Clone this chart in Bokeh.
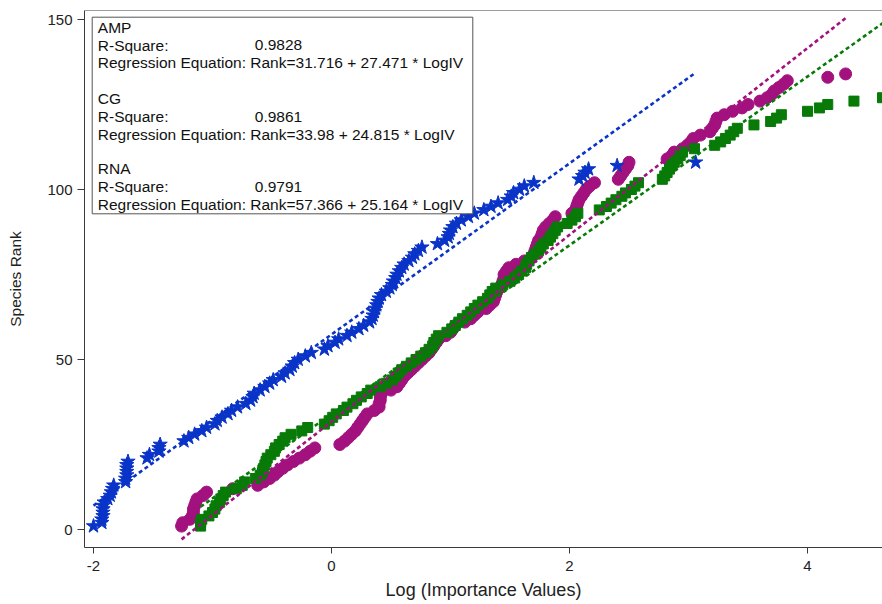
from bokeh.plotting import figure
from bokeh.models import Range1d, FixedTicker, Label, BoxAnnotation, Span
from bokeh.embed import file_html
from bokeh.resources import INLINE

# ---------------- data ----------------
species_rank = [
    1, 2, 3, 4, 5, 6, 7, 8, 9, 10, 11, 12, 13, 14, 15, 16, 17, 18, 19, 20,
    21, 22, 23, 24, 25, 26, 27, 28, 29, 30, 31, 32, 33, 34, 35, 36, 37, 38, 39, 40,
    41, 42, 43, 44, 45, 46, 47, 48, 49, 50, 51, 52, 53, 54, 55, 56, 57, 58, 59, 60,
    61, 62, 63, 64, 65, 66, 67, 68, 69, 70, 71, 72, 73, 74, 75, 76, 77, 78, 79, 80,
    81, 82, 83, 84, 85, 86, 87, 88, 89, 90, 91, 92, 93, 94, 95, 96, 97, 98, 99, 100,
    101, 102, 103, 104, 105, 106, 107, 108, 109, 110, 111, 112, 113, 114, 115, 116, 117, 118, 119, 120,
    121, 122, 123, 124, 125, 126, 127, 128, 129, 130, 131, 132, 133, 134,
]

rna_logiv = [
    -2.00, -1.93, -1.93, -1.92, -1.92, -1.92, -1.92, -1.91, -1.88, -1.86,
    -1.85, -1.84, -1.83, -1.73, -1.73, -1.72, -1.72, -1.72, -1.72, -1.71,
    -1.55, -1.53, -1.45, -1.45, -1.44, -1.24, -1.20, -1.15, -1.09, -1.05,
    -0.98, -0.96, -0.92, -0.87, -0.84, -0.79, -0.72, -0.68, -0.66, -0.65,
    -0.60, -0.56, -0.52, -0.49, -0.42, -0.39, -0.35, -0.33, -0.31, -0.28,
    -0.22, -0.17, -0.06, -0.03, 0.03, 0.06, 0.13, 0.17, 0.23, 0.27,
    0.32, 0.34, 0.35, 0.36, 0.37, 0.38, 0.39, 0.40, 0.42, 0.46,
    0.49, 0.51, 0.52, 0.54, 0.55, 0.57, 0.59, 0.61, 0.65, 0.68,
    0.70, 0.73, 0.76, 0.89, 0.95, 0.98, 0.99, 1.00, 1.02, 1.05,
    1.09, 1.15, 1.20, 1.28, 1.34, 1.40, 1.48, 1.51, 1.53, 1.58,
    1.62, 1.70, 2.08, 2.11, 2.13, 2.16, 2.40, 3.06,
]

amp_logiv = [
    -1.26, -1.25, -1.19, -1.17, -1.16, -1.16, -1.15, -1.14, -1.13, -1.08,
    -1.05, -0.83, -0.62, -0.57, -0.52, -0.48, -0.45, -0.41, -0.37, -0.32,
    -0.27, -0.22, -0.18, -0.14, 0.07, 0.11, 0.14, 0.17, 0.20, 0.22,
    0.24, 0.26, 0.28, 0.30, 0.36, 0.40, 0.40, 0.41, 0.41, 0.42,
    0.50, 0.55, 0.57, 0.59, 0.61, 0.64, 0.67, 0.70, 0.73, 0.76,
    0.79, 0.82, 0.84, 0.86, 0.88, 0.90, 0.96, 1.00, 1.02, 1.04,
    1.12, 1.17, 1.20, 1.23, 1.30, 1.33, 1.36, 1.37, 1.38, 1.39,
    1.41, 1.43, 1.44, 1.45, 1.45, 1.47, 1.49, 1.55, 1.62, 1.68,
    1.70, 1.71, 1.72, 1.73, 1.74, 1.76, 1.77, 1.78, 1.80, 1.83,
    1.86, 1.88, 2.02, 2.05, 2.06, 2.07, 2.08, 2.10, 2.12, 2.14,
    2.17, 2.21, 2.41, 2.43, 2.45, 2.47, 2.49, 2.50, 2.82, 2.86,
    2.88, 2.95, 2.99, 3.02, 3.04, 3.10, 3.18, 3.20, 3.22, 3.23,
    3.24, 3.30, 3.37, 3.45, 3.50, 3.60, 3.66, 3.70, 3.72, 3.76,
    3.80, 3.83, 4.17, 4.32,
]

cg_logiv = [
    -1.10, -1.10, -1.09, -1.03, -1.00, -0.98, -0.97, -0.94, -0.93, -0.91,
    -0.89, -0.80, -0.75, -0.73, -0.64, -0.60, -0.58, -0.57, -0.56, -0.55,
    -0.54, -0.51, -0.48, -0.47, -0.44, -0.41, -0.39, -0.34, -0.25, -0.20,
    -0.06, -0.02, 0.01, 0.04, 0.10, 0.13, 0.18, 0.21, 0.25, 0.30,
    0.33, 0.41, 0.46, 0.51, 0.54, 0.56, 0.59, 0.63, 0.67, 0.71,
    0.75, 0.79, 0.82, 0.85, 0.86, 0.88, 0.90, 0.97, 1.01, 1.04,
    1.07, 1.10, 1.14, 1.17, 1.20, 1.23, 1.27, 1.31, 1.33, 1.35,
    1.38, 1.44, 1.50, 1.54, 1.57, 1.60, 1.63, 1.64, 1.66, 1.68,
    1.71, 1.74, 1.76, 1.78, 1.82, 1.84, 1.86, 1.88, 1.90, 1.98,
    2.02, 2.05, 2.07, 2.25, 2.31, 2.35, 2.39, 2.44, 2.47, 2.52,
    2.55, 2.58, 2.78, 2.80, 2.82, 2.84, 2.86, 2.88, 2.91, 2.93,
    2.95, 3.05, 3.22, 3.27, 3.31, 3.35, 3.38, 3.41, 3.55, 3.69,
    3.74, 3.78, 4.00, 4.10, 4.17, 4.39, 4.63, 4.80,
]

group_names = ["AMP", "CG", "RNA"]
r_square = [0.9828, 0.9861, 0.9791]
intercepts = [31.716, 33.98, 57.366]
slopes = [27.471, 24.815, 25.164]

x_ticks = [-2, 0, 2, 4]
y_ticks = [0, 50, 100, 150]
x_title = "Log (Importance Values)"
y_title = "Species Rank"

# ---------------- styling ----------------
FONT = "Liberation Sans"
BLUE = "#0a34c8"
MAGENTA = "#a3117f"
GREEN = "#087a08"
AXIS = "#3a3a3a"

X0, X1 = -2.0756, 4.630
Y0, Y1 = -5.29, 152.65

p = figure(width=882, height=604, output_backend="svg", toolbar_location=None,
           x_range=Range1d(X0, X1), y_range=Range1d(Y0, Y1),
           min_border_left=84, min_border_right=0, min_border_top=10,
           min_border_bottom=57)
p.outline_line_color = None
p.xgrid.visible = False
p.ygrid.visible = False
p.background_fill_color = "white"
p.border_fill_color = "white"

for ax, ticks in ((p.xaxis[0], x_ticks), (p.yaxis[0], y_ticks)):
    ax.ticker = FixedTicker(ticks=ticks)
    ax.major_label_overrides = {t: str(t) for t in ticks}
    ax.minor_tick_line_color = None
    ax.major_tick_in = 0
    ax.axis_line_color = AXIS
    ax.major_tick_line_color = AXIS
    ax.major_label_text_font = FONT
    ax.major_label_text_font_size = "15px"
    ax.major_label_text_color = "#222222"
    ax.axis_label_text_font = FONT
    ax.axis_label_text_font_style = "normal"
    ax.axis_label_text_color = "#222222"

p.xaxis.major_tick_out = 6
p.xaxis.major_label_standoff = 7
p.xaxis.axis_label = x_title
p.xaxis.axis_label_text_font_size = "18px"
p.xaxis.axis_label_standoff = 6

p.yaxis.major_tick_out = 7
p.yaxis.major_label_standoff = 5
p.yaxis.axis_label = y_title
p.yaxis.axis_label_text_font_size = "15.5px"
p.yaxis.axis_label_standoff = 20

# top frame border
p.add_layout(Span(location=Y1, dimension="width", line_color=AXIS, line_width=1))

# ---------------- scatter ----------------
p.scatter(amp_logiv, species_rank[:len(amp_logiv)], marker="circle", size=12,
          fill_color=MAGENTA, line_color=MAGENTA)
p.scatter(cg_logiv, species_rank[:len(cg_logiv)], marker="square", size=10,
          fill_color=GREEN, line_color=GREEN)
p.scatter(rna_logiv, species_rank[:len(rna_logiv)], marker="star", size=15,
          fill_color=BLUE, line_color=BLUE)

# ---------------- regression lines ----------------
series_x = [amp_logiv, cg_logiv, rna_logiv]
colors = [MAGENTA, GREEN, BLUE]
for xs, a, b, c in zip(series_x, intercepts, slopes, colors):
    lx = [min(xs), max(xs)]
    ly = [a + b * v for v in lx]
    p.line(lx, ly, line_color=c, line_width=2.6, line_dash="4 3")

# ---------------- helpers: page pixel -> data ----------------
def dx(px):
    return X0 + (px - 84) / 798 * (X1 - X0)

def dy(py):
    return Y1 - (py - 10) / 537 * (Y1 - Y0)

# ---------------- text box ----------------
p.add_layout(BoxAnnotation(left=dx(91.7), right=dx(472.3), top=dy(16.7), bottom=dy(213.3),
                           fill_color="white", fill_alpha=1.0, line_color="#555555",
                           line_width=1, line_alpha=1.0))

block_tops = [26.7, 98.3, 168.3]
for name, r2, a, b, top in zip(group_names, r_square, intercepts, slopes, block_tops):
    lines = [
        (name, None),
        ("R-Square:", f"{r2}"),
        (f"Regression Equation: Rank={a} + {b} * LogIV", None),
    ]
    for i, (t, v) in enumerate(lines):
        yy = dy(top + i * 17.8)
        p.add_layout(Label(x=dx(97.3), y=yy, text=t, text_font=FONT,
                           text_font_size="15.5px", text_baseline="middle",
                           text_color="#111111"))
        if v is not None:
            p.add_layout(Label(x=dx(254.3), y=yy, text=v, text_font=FONT,
                               text_font_size="15.5px", text_baseline="middle",
                               text_color="#111111"))

open("out.html", "w").write(file_html(p, INLINE))
